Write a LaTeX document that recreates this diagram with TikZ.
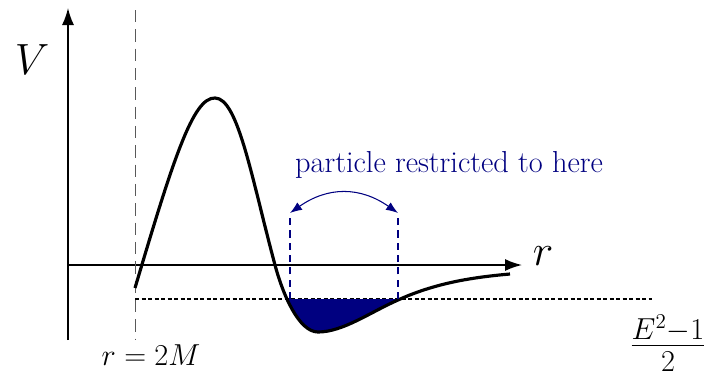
\documentclass[tikz,border=0pt]{standalone}
\usetikzlibrary{arrows.meta}
\definecolor{navy}{RGB}{0,0,128}
\tikzset{
  axis/.style={line width=0.9pt,-{Latex[length=3.4mm,width=2.4mm]}},
  potline/.style={line width=1.8pt,line join=round},
  horizonline/.style={gray!70!black,line width=0.5pt,dash pattern=on 7pt off 4pt},
  levelline/.style={line width=0.8pt,dash pattern=on 2.4pt off 1.3pt},
  boundline/.style={navy,line width=1.1pt,dash pattern=on 4pt off 3pt},
  restrictarrow/.style={navy,line width=0.6pt,{Latex[length=2.4mm,width=1.8mm]}-{Latex[length=2.4mm,width=1.8mm]}}
}
\newcommand{\vcurve}{(1.34,-0.46)
  .. controls (2.1,2.1) and (2.5,3.36) .. (2.94,3.34)
  .. controls (3.4,3.34) and (3.67,1.75) .. (4.14,0)
  .. controls (4.3,-0.6) and (4.62,-1.34) .. (5.0,-1.34)
  .. controls (5.5,-1.34) and (6.05,-0.94) .. (6.6,-0.7)
  .. controls (7.33,-0.37) and (8.04,-0.25) .. (8.84,-0.18)}
\begin{document}
\begin{tikzpicture}[x=1.0cm,y=1.0cm]
  \useasboundingbox (-1.36,-2.22) rectangle (12.9,5.3);
  % axes
  \coordinate (origin) at (0,0);
  \coordinate (ybot) at (0,-1.5);
  \coordinate (ytip) at (0,5.14);
  \coordinate (xtip) at (9.08,0);
  \draw[axis] (ybot) -- (ytip);
  \draw[axis] (origin) -- (xtip);
  \node[font=\fontsize{29}{32}\selectfont] (vlab) at (-0.72,4.1) {$V$};
  \node[font=\fontsize{29}{32}\selectfont] (rlab) at (9.5,0.17) {$r$};
  % horizon
  \coordinate (htop) at (1.34,5.1);
  \coordinate (hbot) at (1.34,-1.5);
  \draw[horizonline] (htop) -- (hbot);
  \node[font=\fontsize{18.5}{21}\selectfont] (horizon) at (1.66,-1.8) {$r=2M$};
  % energy level
  \coordinate (estart) at (1.34,-0.68);
  \coordinate (eend) at (11.68,-0.68);
  \draw[levelline] (estart) -- (eend);
  \node[font=\fontsize{25}{28}\selectfont] (elevel) at (12.0,-1.56) {$\frac{E^2-1}{2}$};
  % bound region
  \begin{scope}
    \clip (4.3,-0.68) rectangle (6.8,-1.6);
    \fill[navy] \vcurve -- (8.84,1) -- (1.34,1) -- cycle;
  \end{scope}
  \draw[potline] \vcurve;
  \coordinate (leftbot) at (4.44,-0.68);
  \coordinate (rightbot) at (6.6,-0.68);
  \coordinate (lefttop) at (4.44,1.04);
  \coordinate (righttop) at (6.6,1.04);
  \draw[boundline] (leftbot) -- (lefttop);
  \draw[boundline] (rightbot) -- (righttop);
  \draw[restrictarrow] (lefttop) to[out=35,in=145,looseness=1.1] (righttop);
  \node[navy,font=\LARGE] (restrict) at (7.62,2.0) {particle restricted to here};
\end{tikzpicture}
\end{document}
